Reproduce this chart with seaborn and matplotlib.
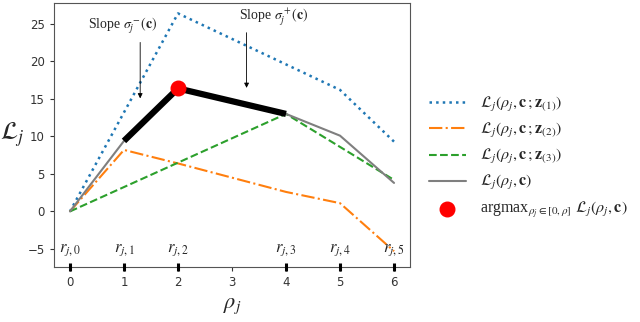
import numpy as np
import pandas as pd
import matplotlib
matplotlib.use('Agg')
import matplotlib.pyplot as plt
import seaborn as sns

sns.set_style('ticks')
plt.rcParams['mathtext.fontset'] = 'stix'
plt.rcParams['font.family'] = ['DejaVu Sans']

# breakpoints r_j,0 ... r_j,5
rho = [0, 1, 2, 4, 5, 6]
r_labels = ['$r_{j,0}$', '$r_{j,1}$', '$r_{j,2}$', '$r_{j,3}$', '$r_{j,4}$', '$r_{j,5}$']

# piecewise-linear curves
L_z1 = [0, 13.2, 26.4, 19.6, 16.2, 9.3]
L_z2 = [0, 8.2, 6.4, 2.6, 1.1, -5.3]
L_z3 = [0, 3.25, 6.5, 13.0, 8.6, 4.2]
L_all = [0, 9.4, 16.4, 13.0, 10.1, 3.8]

# highlighted segments and maximiser
seg_x = [1, 2, 4]
seg_y = [9.4, 16.4, 13.0]
argmax_x = [2]
argmax_y = [16.4]

df = pd.DataFrame({'rho': rho, 'z1': L_z1, 'z2': L_z2, 'z3': L_z3, 'all': L_all})

fig = plt.figure(figsize=(6.4, 3.22), dpi=100)
ax = fig.add_axes([0.084, 0.171, 0.557, 0.82])

sns.lineplot(data=df, x='rho', y='z1', ax=ax, color='#1f77b4', linestyle=':', lw=1.8,
             label=r'$\mathcal{L}_j(\rho_j, \mathbf{c}\,;\mathbf{z}_{(1)})$')
sns.lineplot(data=df, x='rho', y='z2', ax=ax, color='#ff7f0e', linestyle='-.', lw=1.5,
             label=r'$\mathcal{L}_j(\rho_j, \mathbf{c}\,;\mathbf{z}_{(2)})$')
sns.lineplot(data=df, x='rho', y='z3', ax=ax, color='#2ca02c', linestyle='--', lw=1.5,
             label=r'$\mathcal{L}_j(\rho_j, \mathbf{c}\,;\mathbf{z}_{(3)})$')
sns.lineplot(data=df, x='rho', y='all', ax=ax, color='#7f7f7f', linestyle='-', lw=1.5,
             label=r'$\mathcal{L}_j(\rho_j, \mathbf{c})$')
ax.plot(seg_x, seg_y, color='black', lw=4.5, solid_capstyle='butt')
ax.scatter(argmax_x, argmax_y, s=110, color='red', zorder=5,
           label=r'argmax$_{\rho_j \in [0,\rho]}$ $\mathcal{L}_j(\rho_j, \mathbf{c})$')

ax.set_xlim(-0.3, 6.3)
ax.set_ylim(-7.4, 27.8)
ax.set_xticks(range(7))
ax.set_yticks([-5, 0, 5, 10, 15, 20, 25])
ax.tick_params(labelsize=8.5, colors='#333333', length=3)

# breakpoint ticks and labels
ax.plot(rho, [-7.4] * len(rho), linestyle='none', marker='|', ms=6, mew=2.2,
        color='black', clip_on=False, zorder=6)
for x, lab in zip(rho, r_labels):
    ax.text(x, -6.2, lab, ha='center', va='bottom', fontsize=12)

# slope annotations
ax.annotate('', xy=(1.3, 14.7), xytext=(1.3, 22.9),
            arrowprops=dict(arrowstyle='-|>', color='black', lw=0.6, mutation_scale=7))
ax.text(0.97, 24.7, r'Slope $\sigma_j^-(\mathbf{c})$', ha='center', va='center',
        fontsize=10, family='Liberation Serif')
ax.annotate('', xy=(3.27, 16.1), xytext=(3.27, 24.2),
            arrowprops=dict(arrowstyle='-|>', color='black', lw=0.6, mutation_scale=7))
ax.text(3.78, 25.8, r'Slope $\sigma_j^+(\mathbf{c})$', ha='center', va='center',
        fontsize=10, family='Liberation Serif')

ax.set_xlabel(r'$\rho_j$', fontsize=16, labelpad=5)
ax.set_ylabel(r'$\mathcal{L}_j$', fontsize=18, rotation=0, va='center')
ax.yaxis.set_label_coords(-0.115, 0.5)

for s in ax.spines.values():
    s.set_color('#555555')

ax.legend(loc='center left', bbox_to_anchor=(0.648, 0.51), bbox_transform=fig.transFigure,
          frameon=False, prop={'family': 'Liberation Serif', 'size': 11.5},
          handlelength=2.3, handletextpad=0.9, labelspacing=0.45)

fig.savefig('out.png', dpi=100)
